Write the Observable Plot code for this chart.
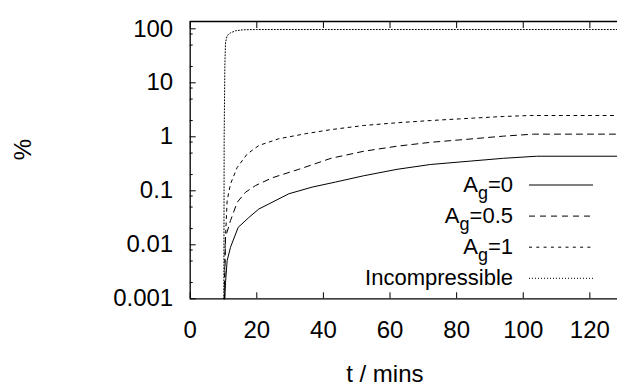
<!DOCTYPE html>
<html><head><meta charset="utf-8">
<script src="https://cdn.jsdelivr.net/npm/d3@7"></script>
<script src="https://cdn.jsdelivr.net/npm/@observablehq/plot@0.6"></script>
<style>
html,body{margin:0;padding:0;background:#fff;}
#chart{position:relative;width:617px;height:386px;overflow:hidden;}
</style></head><body><div id="chart"></div>
<script>
// ---- data ----
const seriesNames = ["A_g=0", "A_g=0.5", "A_g=1", "Incompressible"];

const t_A0 = [10.4, 10.6, 11.1, 12.1, 14.4, 17.6, 20.6, 23.6, 29.6, 36.6, 43.6, 52.1, 62.1, 72.1, 84.1, 94.1, 104, 128.3];
const v_A0 = [0.001, 0.002, 0.0051, 0.009, 0.021, 0.032, 0.046, 0.057, 0.088, 0.117, 0.145, 0.19, 0.25, 0.307, 0.355, 0.40, 0.437, 0.437];

const t_A05 = [10.3, 10.6, 12.1, 14.1, 16.6, 19.6, 24.6, 32.6, 42.3, 52.1, 62.1, 72.1, 85, 94.1, 103.1, 128.3];
const v_A05 = [0.001, 0.0138, 0.028, 0.061, 0.094, 0.125, 0.174, 0.25, 0.40, 0.54, 0.67, 0.79, 0.92, 1.03, 1.12, 1.12];

const t_A1 = [10.2, 10.5, 11.1, 12.1, 14.1, 17.1, 20.6, 26.6, 34.6, 42.3, 52.1, 62.1, 72.1, 85, 94.1, 102.1, 128.3];
const v_A1 = [0.001, 0.01, 0.066, 0.134, 0.27, 0.48, 0.69, 0.92, 1.14, 1.36, 1.62, 1.82, 2.0, 2.22, 2.38, 2.48, 2.48];

const t_inc = [10.1, 10.2, 10.4, 10.6, 11.1, 12.1, 13.6, 16, 20, 128.3];
const v_inc = [0.001, 1, 20, 56, 75, 84, 92, 96, 97, 97];

const xTicks = [0, 20, 40, 60, 80, 100, 120];
const yTicks = [0.001, 0.01, 0.1, 1, 10, 100];
const yMinorTicks = [0.002, 0.005, 0.008, 0.02, 0.05, 0.08, 0.2, 0.5, 0.8, 2, 5, 8, 20, 50, 80];
const xLabel = "t / mins";
const yLabel = "%";

// ---- build ----
const mk = (ts, vs) => ts.map((t, i) => ({t, v: vs[i]}));
const dA0 = mk(t_A0, v_A0), dA05 = mk(t_A05, v_A05), dA1 = mk(t_A1, v_A1), dInc = mk(t_inc, v_inc);

const FONT = "'Liberation Sans', Arial, Helvetica, sans-serif";
const dashes = [null, "6,5", "3,4.3", "1,2"];

const lineOpts = (i) => {
  const o = {x: "t", y: "v", stroke: "#000", strokeWidth: 1, curve: "linear"};
  if (dashes[i]) o.strokeDasharray = dashes[i];
  return o;
};

const chart = Plot.plot({
  width: 617,
  height: 386,
  marginLeft: 189.7,
  marginRight: 0,
  marginTop: 21,
  marginBottom: 87.7,
  style: {fontFamily: FONT, background: "#fff", color: "#000", overflow: "visible"},
  x: {domain: [0, 128.3]},
  y: {type: "log", domain: [0.001, 136.6]},
  marks: [
    Plot.line(dA0, lineOpts(0)),
    Plot.line(dA05, lineOpts(1)),
    Plot.line(dA1, lineOpts(2)),
    Plot.line(dInc, lineOpts(3)),
    // inward ticks
    Plot.axisX({ticks: xTicks, anchor: "bottom", tickSize: -6, tickFormat: () => "", label: null, strokeWidth: 1}),
    Plot.axisX({ticks: xTicks, anchor: "top", tickSize: -6, tickFormat: () => "", label: null, strokeWidth: 1}),
    Plot.axisY({ticks: yTicks, anchor: "left", tickSize: -6, tickFormat: () => "", label: null, strokeWidth: 1}),
    Plot.axisY({ticks: yMinorTicks, anchor: "left", tickSize: -3, tickFormat: () => "", label: null, strokeWidth: 1}),
    // tick labels
    Plot.axisX({ticks: xTicks, anchor: "bottom", tickSize: 0, tickPadding: 22, fontSize: 24, label: null}),
    Plot.axisY({ticks: yTicks, anchor: "left", tickSize: 0, tickPadding: 17, fontSize: 24, label: null, tickFormat: d => String(d)}),
    // frame (top, bottom, left)
    Plot.ruleY([0.001, 136.6], {stroke: "#000", strokeWidth: 1.3}),
    Plot.ruleX([0], {stroke: "#000", strokeWidth: 1.3}),
    // axis titles
    Plot.text([xLabel], {frameAnchor: "bottom", dx: -19, dy: 75.5, fontSize: 24, lineAnchor: "middle", fill: "#000"}),
    Plot.text([yLabel], {frameAnchor: "left", dx: -167, rotate: -90, fontSize: 24, lineAnchor: "middle", fill: "#000"})
  ]
});

document.getElementById("chart").appendChild(chart);

// ---- legend (inside plot, lower right) ----
const legendRows = [
  {main: "A", sub: "g", rest: "=0", dash: dashes[0]},
  {main: "A", sub: "g", rest: "=0.5", dash: dashes[1]},
  {main: "A", sub: "g", rest: "=1", dash: dashes[2]},
  {main: "Incompressible", sub: null, rest: "", dash: dashes[3]}
];
const svg = d3.select(chart);
const g = svg.append("g").attr("font-family", FONT).attr("font-size", 22);
legendRows.forEach((r, i) => {
  const y = 185 + i * 31.1;
  const txt = g.append("text").attr("x", 513).attr("y", y + 7).attr("text-anchor", "end").attr("fill", "#000");
  txt.append("tspan").text(r.main);
  if (r.sub) {
    txt.append("tspan").attr("dy", 7).attr("font-size", 18).text(r.sub);
    txt.append("tspan").attr("dy", -7).text(r.rest);
  }
  const ln = g.append("line").attr("x1", 529).attr("x2", 593).attr("y1", y).attr("y2", y)
    .attr("stroke", "#000").attr("stroke-width", 1);
  if (r.dash) ln.attr("stroke-dasharray", r.dash);
});
</script>
</body></html>
